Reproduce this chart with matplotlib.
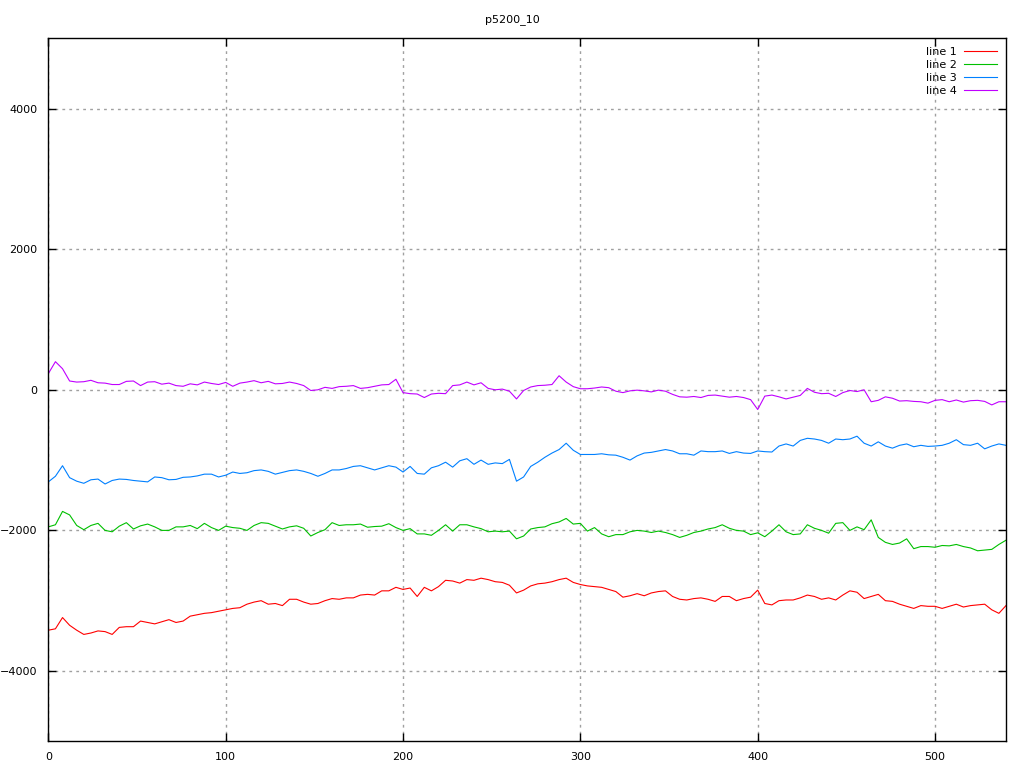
import numpy as np
import matplotlib
matplotlib.use('Agg')
import matplotlib.pyplot as plt

# sample index (every 4th point)
x = np.arange(0, 541, 4)

line1 = [-3420, -3400, -3240, -3350, -3420, -3480, -3460, -3430, -3440, -3480,
         -3380, -3370, -3370, -3290, -3310, -3330, -3300, -3270, -3310, -3290,
         -3220, -3200, -3180, -3170, -3150, -3130, -3110, -3100, -3050, -3020,
         -3000, -3050, -3040, -3070, -2980,
         -2980, -3020, -3050, -3040, -3000, -2970, -2980, -2960, -2960,
         -2920, -2910, -2920, -2860, -2860, -2810, -2840, -2820, -2940, -2810,
         -2860, -2800, -2710, -2720, -2750, -2700, -2710, -2680, -2700, -2730,
         -2740, -2780, -2890, -2850,
         -2790, -2760, -2750, -2730, -2700, -2680, -2740, -2770, -2790,
         -2800, -2810, -2840, -2870, -2950, -2930, -2900, -2930, -2890, -2870,
         -2860, -2940, -2980, -2990, -2970, -2960, -2980, -3010, -2940, -2940,
         -3000, -2970, -2950, -2850, -3040,
         -3060, -3000, -2990, -2990, -2960, -2920, -2940, -2980, -2960,
         -2990, -2920, -2860, -2880, -2970, -2940, -2910, -3000, -3010, -3050,
         -3080, -3110, -3070, -3080, -3080, -3110, -3080, -3050, -3090, -3070,
         -3060, -3050, -3130, -3180, -3070]

line2 = [-1950, -1920, -1730, -1780, -1930, -1990, -1930, -1900, -2000, -2020,
         -1940, -1890, -1980, -1935, -1910, -1950, -2000, -2000, -1950, -1950,
         -1930, -1975, -1900, -1960, -2000, -1940, -1960, -1970, -2000, -1930,
         -1890, -1900, -1940, -1980, -1950,
         -1935, -1970, -2080, -2030, -1990, -1890, -1930, -1920, -1920,
         -1910, -1955, -1945, -1940, -1905, -1960, -2000, -1975, -2050, -2050,
         -2070, -2000, -1920, -2010, -1920, -1920, -1950, -1975, -2020, -2010,
         -2020, -2010, -2120, -2080,
         -1980, -1960, -1950, -1905, -1880, -1830, -1910, -1900, -2010,
         -1960, -2050, -2090, -2060, -2060, -2020, -2000, -2010, -2030, -2010,
         -2030, -2060, -2100, -2070, -2030, -2010, -1980, -1960, -1920, -1970,
         -2000, -2010, -2060, -2035, -2090,
         -2010, -1920, -2020, -2060, -2050, -1920, -1970, -2000, -2040,
         -1900, -1890, -2000, -1950, -1990, -1850, -2100, -2170, -2200, -2180,
         -2120, -2260, -2230, -2230, -2240, -2215, -2220, -2200, -2230, -2250,
         -2290, -2280, -2270, -2200, -2140]

line3 = [-1310, -1230, -1080, -1250, -1300, -1330, -1280, -1270, -1340, -1290,
         -1270, -1275, -1290, -1300, -1310, -1240, -1250, -1280, -1275, -1245,
         -1240, -1225, -1200, -1200, -1240, -1215, -1170, -1190, -1180, -1150,
         -1140, -1160, -1200, -1175, -1150,
         -1140, -1160, -1190, -1230, -1190, -1140, -1140, -1120, -1090,
         -1080, -1110, -1140, -1110, -1080, -1100, -1170, -1090, -1190, -1200,
         -1110, -1080, -1030, -1100, -1010, -980, -1060, -1000, -1060, -1040,
         -1050, -990, -1300, -1240,
         -1090, -1030, -960, -900, -850, -760, -860, -920, -920,
         -920, -910, -925, -930, -960, -1000, -940, -900, -890, -870,
         -850, -870, -910, -910, -930, -870, -880, -880, -870, -905,
         -880, -900, -905, -870, -880,
         -885, -800, -770, -800, -720, -690, -700, -720, -760,
         -700, -710, -700, -660, -760, -800, -740, -800, -830, -790,
         -770, -810, -790, -805, -800, -790, -760, -710, -780, -790,
         -760, -840, -800, -770, -790]

line4 = [230, 400, 300, 125, 110, 115, 135, 100, 95, 75,
         75, 120, 125, 60, 110, 115, 80, 95, 60, 50,
         85, 70, 110, 90, 75, 105, 50, 95, 110, 130,
         100, 120, 85, 90, 110,
         90, 60, -10, 0, 35, 20, 45, 50, 60,
         20, 30, 50, 70, 75, 150, -40, -55, -60, -110,
         -60, -50, -55, 60, 70, 110, 70, 100, 20, 0,
         10, -20, -130, -10,
         40, 60, 65, 75, 200, 110, 45, 15, 15,
         25, 40, 30, -20, -40, -15, -5, -15, -30, -5,
         -20, -65, -100, -105, -95, -110, -80, -75, -90, -105,
         -95, -110, -140, -280, -90,
         -75, -100, -130, -105, -80, 20, -35, -55, -50,
         -95, -40, -10, -25, 0, -170, -150, -100, -120, -160,
         -155, -165, -170, -190, -150, -140, -170, -145, -175, -155,
         -150, -165, -215, -170, -170]

labels = ['line 1', 'line 2', 'line 3', 'line 4']
colors = ['#ff0000', '#00c000', '#0080ff', '#c000ff']

fig = plt.figure(figsize=(10.24, 7.68), dpi=100)
ax = fig.add_axes([0.0472, 0.0348, 0.9352, 0.9153])

for ys, lab, c in zip([line1, line2, line3, line4], labels, colors):
    ax.plot(x, ys, color=c, lw=0.8, label=lab)

ax.set_xlim(0, 540)
ax.set_ylim(-5000, 5000)
ax.set_xticks([0, 100, 200, 300, 400, 500])
ax.set_yticks([-4000, -2000, 0, 2000, 4000])
ax.grid(True, color='#a0a0a0', linestyle=(0, (2, 3)), linewidth=1.0)
ax.tick_params(direction='in', length=6, width=1, top=True, right=True,
               labelsize=8, pad=8)
for s in ax.spines.values():
    s.set_linewidth(1.0)

fig.text(0.5, 0.975, 'p5200_10', ha='center', va='center', fontsize=8)

ax.legend(loc='upper right', frameon=False, markerfirst=False, fontsize=8,
          handlelength=3.0, labelspacing=0.25, borderaxespad=0.5,
          borderpad=0.3, handletextpad=0.6)

plt.savefig('out.png', dpi=100)
